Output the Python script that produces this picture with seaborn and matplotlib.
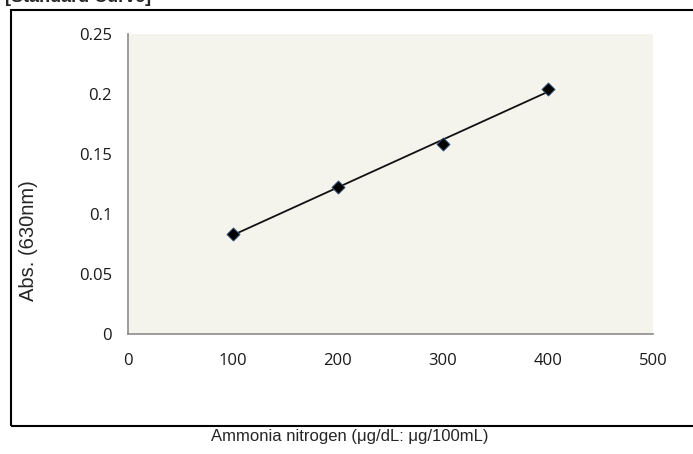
import numpy as np
import pandas as pd
import matplotlib.pyplot as plt
import matplotlib.patches as patches
import seaborn as sns

# data
conc = [100, 200, 300, 400]            # ammonia nitrogen, ug/dL
absorb = [0.0836, 0.1222, 0.1586, 0.2042]  # Abs. at 630nm
x_ticks = [0, 100, 200, 300, 400, 500]
y_ticks = [0, 0.05, 0.1, 0.15, 0.2, 0.25]
y_tick_labels = ["0", "0.05", "0.1", "0.15", "0.2", "0.25"]

df = pd.DataFrame({"conc": conc, "abs": absorb})

sns.set_style("white")
plt.rcParams["font.family"] = ["Open Sans", "DejaVu Sans"]

W, H = 693, 454
fig = plt.figure(figsize=(W / 100, H / 100), dpi=100)
ax = fig.add_axes([128 / W, 1 - 334 / H, (653 - 128) / W, (334 - 34) / H])
ax.set_facecolor("#f4f3ec")

sns.regplot(data=df, x="conc", y="abs", ax=ax, ci=None, marker="D",
            scatter_kws={"s": 45, "color": "black", "edgecolors": "#3a5f8a",
                         "linewidths": 0.6, "alpha": 1, "zorder": 3},
            line_kws={"color": "#111111", "lw": 1.3, "zorder": 2})

ax.set_xlim(0, 500)
ax.set_ylim(0, 0.25)
ax.set_xticks(x_ticks)
ax.set_yticks(y_ticks)
ax.set_yticklabels(y_tick_labels)
ax.set_xlabel("")
ax.set_ylabel("")

for s in ["top", "right"]:
    ax.spines[s].set_visible(False)
for s in ["left", "bottom"]:
    ax.spines[s].set_color("#8c8c8c")
    ax.spines[s].set_linewidth(1.2)
ax.tick_params(axis="both", direction="out", length=5.5, width=1, color="#8c8c8c",
               labelsize=12, labelcolor="#1a1a1a")
ax.tick_params(axis="y", pad=6)
ax.tick_params(axis="x", pad=8)

# outer chart frame (runs off the right edge)
frame = patches.Rectangle((10.5 / W, 1 - 426 / H), 1.0, (426 - 10) / H,
                          transform=fig.transFigure, fill=False,
                          edgecolor="black", lw=1.5, clip_on=False)
fig.patches.append(frame)

fig.text(29 / W, 1 - 241 / H, "Abs. (630nm)", rotation=90, ha="center", va="center",
         fontsize=14.5, family=["Liberation Sans", "DejaVu Sans"])
fig.text(350 / W, 1 - 437 / H, "Ammonia nitrogen (\u03bcg/dL: \u03bcg/100mL)",
         ha="center", va="center", fontsize=12, family=["Liberation Sans", "DejaVu Sans"])
# title mostly cut off at the top edge, as in the reference
fig.text(5 / W, 1 - 1.5 / H, "[Standard Curve]", ha="left", va="baseline",
         fontsize=13, fontweight="bold", family=["Liberation Sans", "DejaVu Sans"])

fig.savefig("out.png", dpi=100)
